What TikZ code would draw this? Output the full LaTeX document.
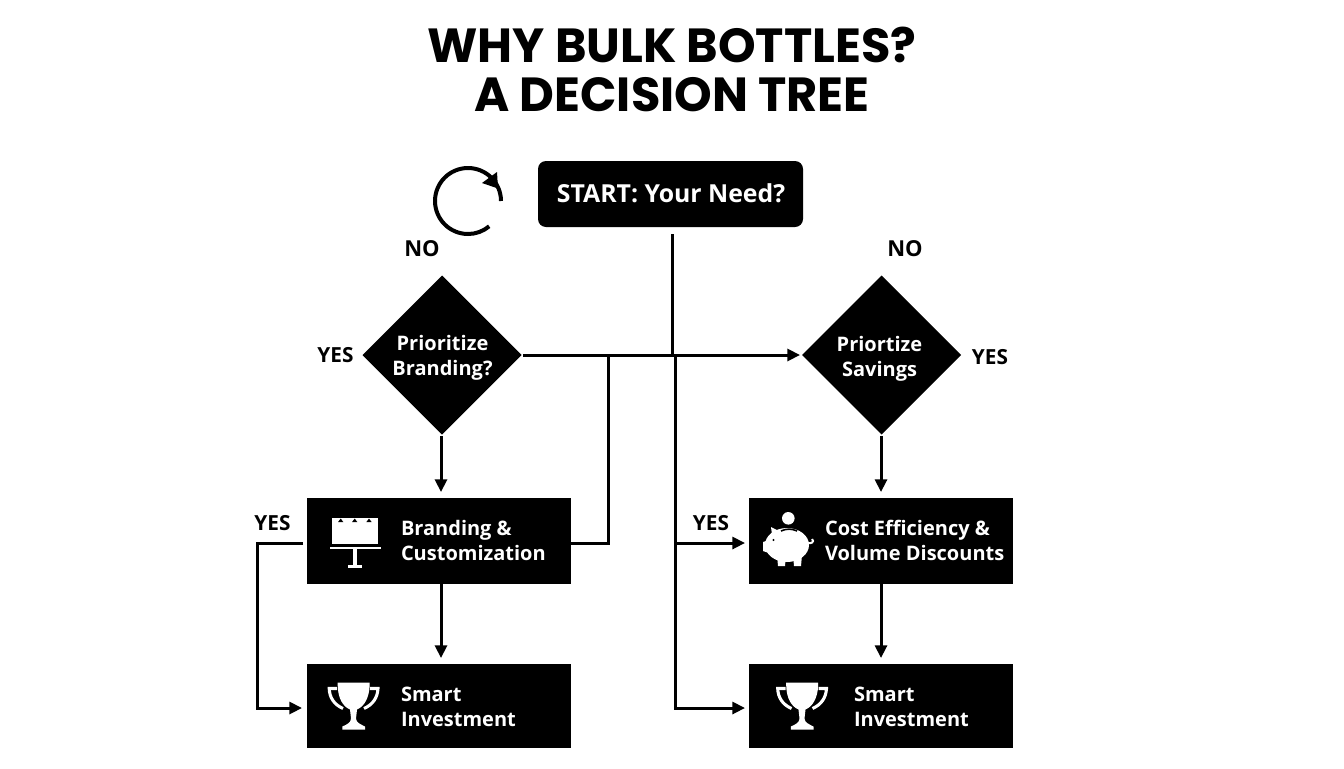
\documentclass[tikz,border=0pt]{standalone}
\usepackage{fontspec}
\setmainfont{Open Sans}[BoldFont=* Bold]
\newfontfamily\titlefont{Poppins}[BoldFont=* Bold]
\usetikzlibrary{shapes.geometric,arrows.meta}
\tikzset{
  x=0.75pt,y=-0.75pt,
  px/.style={inner sep=0pt,outer sep=0pt},
  box/.style={px,fill=black,draw=none,minimum width=198pt,minimum height=64.5pt,rectangle},
  dia/.style={px,fill=black,diamond,aspect=1,minimum width=119.25pt,minimum height=119.25pt},
  lab/.style={px,text=white,font=\fontsize{15pt}{18.8pt}\selectfont\bfseries,align=left,anchor=west},
  clab/.style={px,text=white,font=\fontsize{15pt}{18.8pt}\selectfont\bfseries,align=center},
  tag/.style={px,text=black,font=\fontsize{16.5pt}{17pt}\selectfont\bfseries},
  ytag/.style={px,text=black,font=\fontsize{15.6pt}{17pt}\selectfont\bfseries},
  conn/.style={line width=2.25pt,draw=black},
  arr/.style={conn,-{Triangle[length=9.5pt,width=9pt]}},
  trophy/.pic={
    \fill[white] (9.7,0) -- (41.7,0) -- (41.7,3) .. controls (41,16) and (36,24) .. (29,27) -- (28,36) .. controls (28,40) and (33,42) .. (37,44) -- (37,47) -- (14.3,47) -- (14.3,44) .. controls (19,42) and (23,40) .. (23,36) -- (22,27) .. controls (15,24) and (10,16) .. (9.7,3) -- cycle;
    \draw[white,line width=2.3pt] (9,6) -- (1.2,6) .. controls (1.5,15) and (6,22) .. (15,26);
    \draw[white,line width=2.3pt] (42,6) -- (50,6) .. controls (49.5,15) and (45,22) .. (36,26);
  }
}
\begin{document}
\begin{tikzpicture}
\useasboundingbox (0,0) rectangle (1344,768);
\fill[white] (0,0) rectangle (1344,768);
% title
\node[px,font=\titlefont\bfseries\fontsize{35.9pt}{37.3pt}\selectfont,align=center] (title) at (672,69.5) {WHY BULK BOTTLES?\\A DECISION TREE};
% nodes
\node[box,rounded corners=6pt,minimum width=198.75pt,minimum height=49.5pt] (start) at (670.5,194) {};
\node[clab,font=\fontsize{18.6pt}{20pt}\selectfont\bfseries] (startt) at (671,193.5) {START: Your Need?};
\node[dia] (d1) at (442,355) {};
\node[clab] (d1t) at (442.5,358) {Prioritize\\Branding?};
\node[dia] (d2) at (881.5,355) {};
\node[clab] (d2t) at (879.5,358.5) {Priortize\\Savings};
\node[box] (b1) at (439,541) {};
\node[box] (c1) at (881,541) {};
\node[box,minimum height=63pt] (s1) at (439,706) {};
\node[box,minimum height=63pt] (s2) at (881,706) {};
\node[lab] (b1t) at (401,540.5) {Branding \&\\Customization};
\node[lab] (c1t) at (825,540.5) {Cost Efficiency \&\\Volume Discounts};
\node[lab] (s1t) at (401,706.5) {Smart\\Investment};
\node[lab] (s2t) at (854,706.5) {Smart\\Investment};
% tags
\node[tag] (no1) at (422,249) {NO};
\node[tag] (no2) at (905,249) {NO};
\node[ytag] (y1) at (335.5,355.5) {YES};
\node[ytag] (y2) at (990,357) {YES};
\node[ytag] (y3) at (272.5,523) {YES};
\node[ytag] (y4) at (711,523) {YES};
% connectors
\coordinate (sfree) at (672,234);
\coordinate (jtop) at (672,355);
\coordinate (dr) at (523,355);
\coordinate (dl) at (800,355);
\coordinate (j1) at (608,355);
\coordinate (j2) at (675,355);
\coordinate (k2) at (675,543);
\coordinate (k3) at (675,708);
\coordinate (lft) at (257,543);
\coordinate (lfb) at (257,708);
\coordinate (b1l) at (303,543);
\coordinate (b1r) at (571,543);
\draw[conn] (sfree) -- (jtop);
\draw[arr] (dr) -- (dl);
\draw[conn] (j1) -- (j1 |- b1r) -- (b1r);
\draw[arr] (j2) -- (k3) -- (745,708);
\draw[arr] (k2) -- (745,543);
\draw[arr] (441,436) -- (441,492);
\draw[arr] (881,436) -- (881,492);
\draw[arr] (441,584) -- (441,658);
\draw[arr] (c1.south) -- (881,658);
\draw[arr] (b1l) -- (lft) -- (lfb) -- (302,708);
% loop icon
\draw[line width=3pt,line cap=butt] (501,201) arc[start angle=0,end angle=310,x radius=33,y radius=-33];
\fill (497,172) -- (498,188.5) -- (482,183) -- cycle;
% billboard icon
\fill[white] (332.3,517.7) rectangle (377.7,544.3);
\fill[white] (330,546.7) rectangle (381,549.3);
\fill[white] (353.3,549) rectangle (357.3,566);
\fill[white] (348,565) rectangle (362,567.5);
\foreach \tx in {340.7,354.7,369}{\fill[black] (\tx-2.6,522) -- (\tx+2.6,522) -- (\tx,518.5) -- cycle;}
% trophies
\pic at (328,682.5) {trophy};
\pic at (776.5,682.5) {trophy};
% piggy icon
\fill[white] (788.3,518.3) circle[radius=6.3];
\fill[white] (787,545) ellipse[x radius=22,y radius=17];
\fill[white] (763,542) -- (772,539) -- (772,554) -- (763,551) -- cycle;
\fill[white] (771,527) -- (781,532) -- (773,542) -- cycle;
\fill[white] (777,555) -- (786,555) -- (785,566) -- (778,566) -- cycle;
\fill[white] (793,555) -- (802,555) -- (801,566) -- (794,566) -- cycle;
\draw[white,line width=1.5pt] (807,543) .. controls (811,544) and (815,542) .. (812,539);
\draw[black,line width=1.2pt] (781,531) .. controls (786,528.5) and (792,528.5) .. (797,531);
\fill[black] (773.5,540) circle[radius=1.1];
\end{tikzpicture}
\end{document}
